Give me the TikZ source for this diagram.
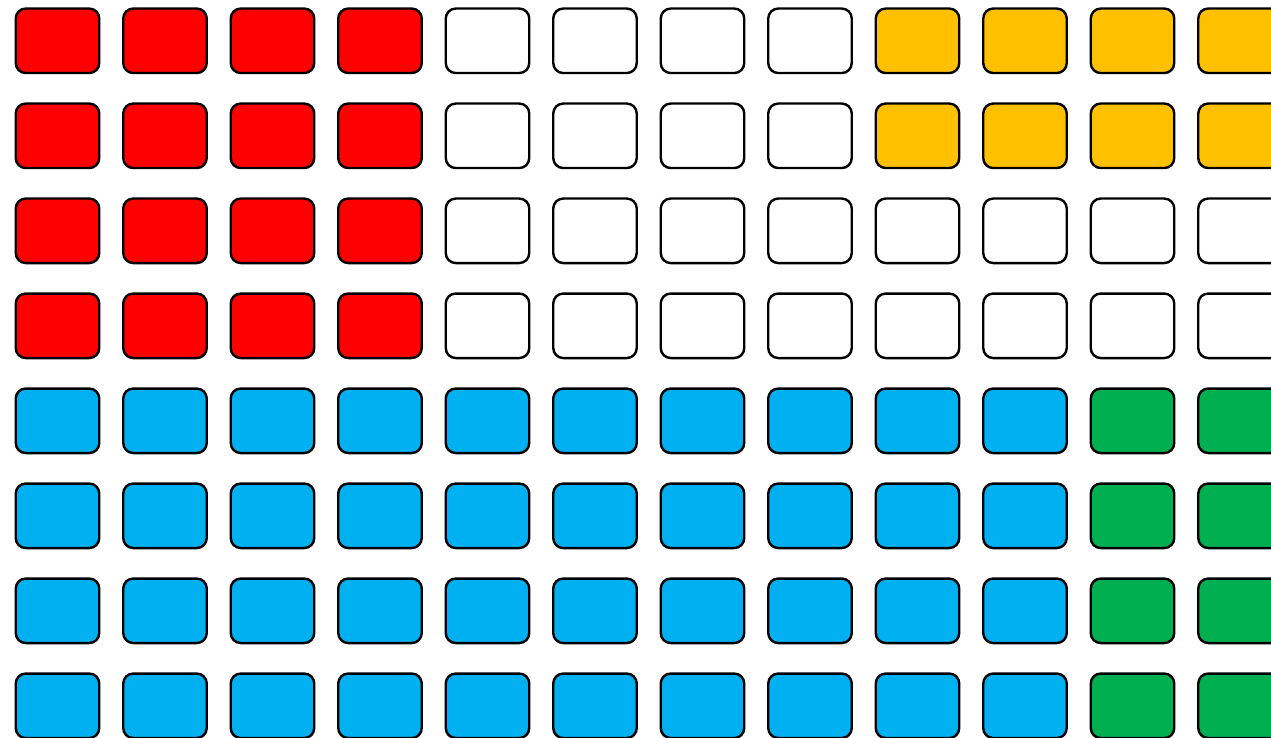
\documentclass[tikz,border=0pt]{standalone}
\definecolor{cred}{HTML}{FF0000}
\definecolor{cyellow}{HTML}{FFC000}
\definecolor{cblue}{HTML}{00B0F0}
\definecolor{cgreen}{HTML}{00B050}
\begin{document}
\begin{tikzpicture}[x=1pt,y=-1pt,
  cell/.style={draw=black, line width=2.4pt, rounded corners=10pt, minimum width=83.5pt, minimum height=64.5pt, inner sep=0pt, outer sep=0pt}]
\useasboundingbox (0,0) rectangle (1271,738);
\clip (0,0) rectangle (1271,738);
\foreach \r in {0,...,7}{
  \foreach \c in {0,...,11}{
    \pgfmathtruncatemacro{\kind}{%
      \r<4 ? (\c<4 ? 1 : (\c<8 ? 0 : (\r<2 ? 2 : 0))) : (\c<10 ? 3 : 4)}
    \ifcase\kind \def\fc{white}\or \def\fc{cred}\or \def\fc{cyellow}\or \def\fc{cblue}\or \def\fc{cgreen}\fi
    \node[cell, fill=\fc] (b-\r-\c) at ({57.5+107.5*\c},{40.8+95*\r}) {};
  }
}
\end{tikzpicture}
\end{document}
